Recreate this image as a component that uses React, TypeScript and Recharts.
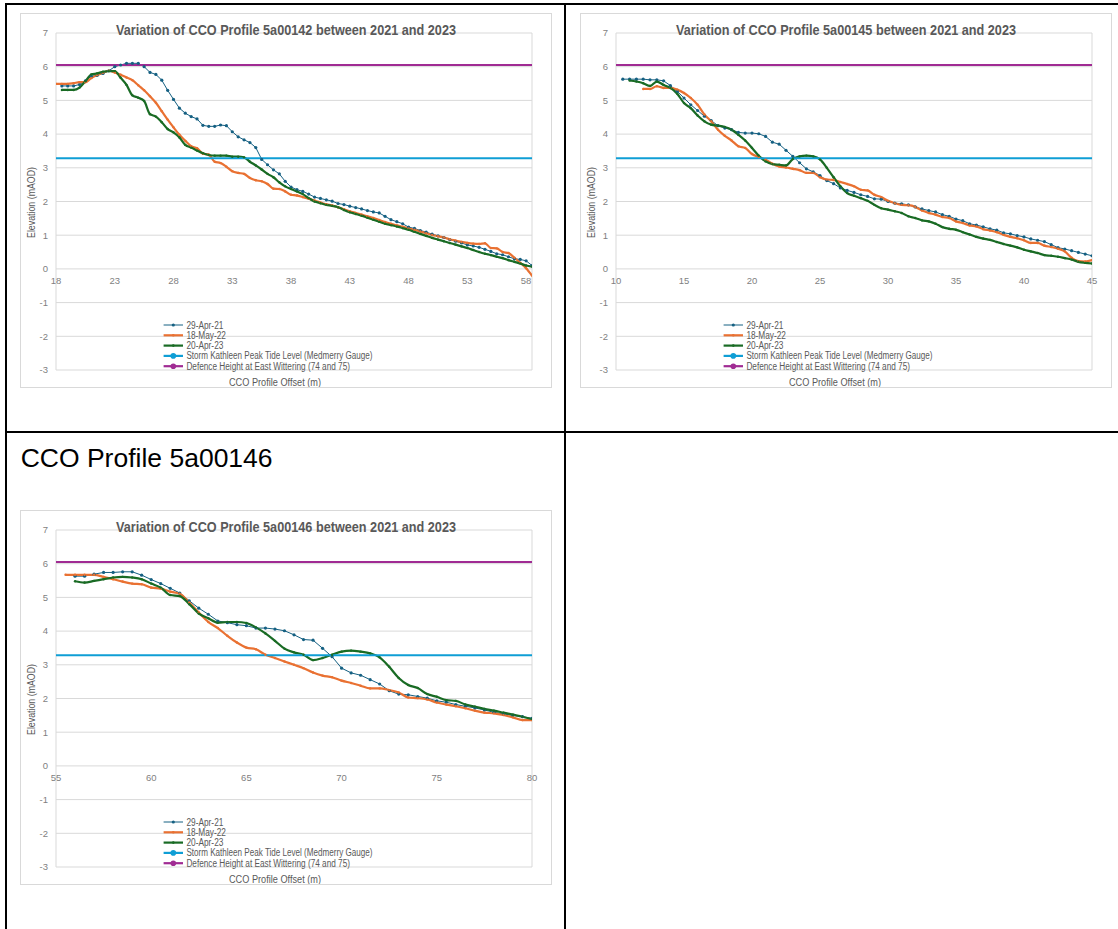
import React from "react";
import {
  LineChart,
  Line,
  XAxis,
  YAxis,
  CartesianGrid,
  ReferenceLine,
  ReferenceDot,
  Legend,
} from "recharts";

// Office palette used by the original workbook
const BLUE = "#156082";
const ORANGE = "#E97132";
const GREEN = "#196B24";
const CYAN = "#0F9ED5";
const PURPLE = "#A02B93";
const GRID = "#d9d9d9";
const TICK = "#7f7f7f";
const LABEL = "#595959";
const FONT = "'Liberation Sans', Arial, sans-serif";

const STORM_LEVEL = 3.28;
const DEFENCE_HEIGHT = 6.05;
const Y_TICKS = [-3, -2, -1, 0, 1, 2, 3, 4, 5, 6, 7];

const LEGEND_LABELS = [
  "29-Apr-21",
  "18-May-22",
  "20-Apr-23",
  "Storm Kathleen Peak Tide Level (Medmerry Gauge)",
  "Defence Height at East Wittering (74 and 75)",
];

// ---- Profile 5a00142 ----
const OFFSETS_142 = [
  18, 18.5, 19, 19.5, 20, 20.5, 21, 21.5, 22, 22.5,
  23, 23.5, 24, 24.5, 25, 25.5, 26, 26.5, 27, 27.5,
  28, 28.5, 29, 29.5, 30, 30.5, 31, 31.5, 32, 32.5,
  33, 33.5, 34, 34.5, 35, 35.5, 36, 36.5, 37, 37.5,
  38, 38.5, 39, 39.5, 40, 40.5, 41, 41.5, 42, 42.5,
  43, 43.5, 44, 44.5, 45, 45.5, 46, 46.5, 47, 47.5,
  48, 48.5, 49, 49.5, 50, 50.5, 51, 51.5, 52, 52.5,
  53, 53.5, 54, 54.5, 55, 55.5, 56, 56.5, 57, 57.5,
  58, 58.5,
];
const APR21_142 = [
  null, 5.43, 5.43, 5.43, 5.47, 5.58, 5.72, 5.74, 5.8, 5.88,
  6.0, 6.05, 6.1, 6.1, 6.1, 6.0, 5.83, 5.77, 5.6, 5.3,
  5.03, 4.77, 4.62, 4.52, 4.45, 4.26, 4.23, 4.23, 4.27, 4.25,
  4.07, 3.92, 3.83, 3.75, 3.6, 3.25, 3.09, 2.94, 2.82, 2.6,
  2.43, 2.35, 2.3, 2.22, 2.13, 2.09, 2.05, 2.01, 1.94, 1.91,
  1.86, 1.82, 1.78, 1.73, 1.69, 1.66, 1.56, 1.46, 1.4, 1.34,
  1.24, 1.2, 1.14, 1.09, 1.03, 0.98, 0.93, 0.87, 0.82, 0.77,
  0.71, 0.68, 0.64, 0.58, 0.52, 0.45, 0.42, 0.36, 0.3, 0.28,
  0.24, 0.1,
];
const MAY22_142 = [
  5.49, 5.49, 5.49, 5.51, 5.54, 5.54, 5.66, 5.75, 5.82, 5.88,
  5.83, 5.76, 5.68, 5.6, 5.45, 5.3, 5.12, 4.93, 4.68, 4.43,
  4.2, 3.98, 3.8, 3.64, 3.58, 3.42, 3.39, 3.18, 3.14, 3.03,
  2.9, 2.85, 2.82, 2.7, 2.63, 2.6, 2.52, 2.38, 2.37, 2.3,
  2.2, 2.18, 2.13, 2.08, 2.03, 1.97, 1.92, 1.88, 1.83, 1.77,
  1.71, 1.66, 1.61, 1.56, 1.51, 1.45, 1.39, 1.34, 1.29, 1.25,
  1.2, 1.16, 1.11, 1.06, 1.01, 0.97, 0.93, 0.88, 0.84, 0.8,
  0.77, 0.75, 0.74, 0.76, 0.62, 0.61, 0.5, 0.47, 0.33, 0.18,
  0.02, -0.2,
];
const APR23_142 = [
  null, 5.31, 5.31, 5.31, 5.38, 5.57, 5.77, 5.8, 5.85, 5.87,
  5.87, 5.67, 5.46, 5.15, 5.08, 4.98, 4.59, 4.52, 4.35, 4.15,
  4.05, 3.9, 3.68, 3.6, 3.51, 3.43, 3.38, 3.36, 3.36, 3.36,
  3.33, 3.33, 3.31, 3.18, 3.07, 2.95, 2.82, 2.72, 2.57, 2.45,
  2.37, 2.3, 2.22, 2.1, 2.0, 1.95, 1.9, 1.87, 1.83, 1.75,
  1.68, 1.63, 1.58, 1.52, 1.46, 1.4, 1.34, 1.3, 1.26, 1.21,
  1.16, 1.1, 1.04, 0.98, 0.92, 0.87, 0.82, 0.77, 0.72, 0.67,
  0.62, 0.56, 0.5, 0.45, 0.41, 0.36, 0.32, 0.26, 0.21, 0.16,
  0.1, 0.07,
];
const X_TICKS_142 = [18, 23, 28, 33, 38, 43, 48, 53, 58];

// ---- Profile 5a00145 ----
const OFFSETS_145 = [
  10.5, 11, 11.5, 12, 12.5, 13, 13.5, 14, 14.5, 15,
  15.5, 16, 16.5, 17, 17.5, 18, 18.5, 19, 19.5, 20,
  20.5, 21, 21.5, 22, 22.5, 23, 23.5, 24, 24.5, 25,
  25.5, 26, 26.5, 27, 27.5, 28, 28.5, 29, 29.5, 30,
  30.5, 31, 31.5, 32, 32.5, 33, 33.5, 34, 34.5, 35,
  35.5, 36, 36.5, 37, 37.5, 38, 38.5, 39, 39.5, 40,
  40.5, 41, 41.5, 42, 42.5, 43, 43.5, 44, 44.5, 45,
];
const APR21_145 = [
  5.63, 5.63, 5.63, 5.63, 5.61, 5.61, 5.58, 5.44, 5.27, 5.07,
  4.87, 4.7, 4.53, 4.4, 4.25, 4.18, 4.13, 4.05, 4.03, 4.03,
  4.01, 3.93, 3.76, 3.7, 3.52, 3.34, 3.15, 2.97, 2.88, 2.77,
  2.62, 2.53, 2.4, 2.33, 2.27, 2.2, 2.15, 2.08, 2.07, 2.0,
  1.95, 1.93, 1.9, 1.84, 1.78, 1.73, 1.69, 1.61, 1.56, 1.48,
  1.43, 1.34, 1.3, 1.25, 1.19, 1.15, 1.07, 1.04, 0.99, 0.95,
  0.89, 0.85, 0.81, 0.72, 0.63, 0.59, 0.54, 0.49, 0.44, 0.39,
];
const MAY22_145 = [
  null, null, null, 5.34, 5.34, 5.42, 5.37, 5.37, 5.32, 5.22,
  5.07, 4.87, 4.58, 4.38, 4.13, 3.95, 3.81, 3.64, 3.59, 3.41,
  3.32, 3.24, 3.12, 3.04, 3.01, 2.97, 2.93, 2.85, 2.85, 2.72,
  2.65, 2.64, 2.58, 2.52, 2.45, 2.35, 2.33, 2.2, 2.13, 2.02,
  1.95, 1.9, 1.89, 1.84, 1.73, 1.66, 1.61, 1.54, 1.51, 1.41,
  1.36, 1.29, 1.26, 1.18, 1.14, 1.09, 1.01, 0.95, 0.91, 0.85,
  0.77, 0.77, 0.69, 0.65, 0.6, 0.52, 0.33, 0.23, 0.22, 0.26,
];
const APR23_145 = [
  null, 5.59, 5.56, 5.51, 5.43, 5.56, 5.46, 5.37, 5.2, 4.92,
  4.77, 4.55, 4.38, 4.28, 4.25, 4.21, 4.13, 3.98, 3.81, 3.59,
  3.36, 3.19, 3.11, 3.09, 3.07, 3.26, 3.34, 3.36, 3.34, 3.25,
  3.0, 2.72, 2.45, 2.25, 2.17, 2.1, 2.02, 1.9, 1.8, 1.76,
  1.71, 1.66, 1.56, 1.51, 1.44, 1.41, 1.34, 1.24, 1.19, 1.16,
  1.09, 1.02, 0.95, 0.9, 0.86, 0.8, 0.74, 0.69, 0.64, 0.57,
  0.52, 0.47, 0.41, 0.39, 0.36, 0.32, 0.28, 0.21, 0.18, 0.16,
];
const X_TICKS_145 = [10, 15, 20, 25, 30, 35, 40, 45];

// ---- Profile 5a00146 ----
const OFFSETS_146 = [
  55.5, 56, 56.5, 57, 57.5, 58, 58.5, 59, 59.5, 60,
  60.5, 61, 61.5, 62, 62.5, 63, 63.5, 64, 64.5, 65,
  65.5, 66, 66.5, 67, 67.5, 68, 68.5, 69, 69.5, 70,
  70.5, 71, 71.5, 72, 72.5, 73, 73.5, 74, 74.5, 75,
  75.5, 76, 76.5, 77, 77.5, 78, 78.5, 79, 79.5, 80,
];
const APR21_146 = [
  null, 5.63, 5.63, 5.69, 5.74, 5.74, 5.76, 5.76, 5.66, 5.53,
  5.41, 5.27, 5.13, 4.9, 4.68, 4.5, 4.3, 4.25, 4.19, 4.16,
  4.09, 4.09, 4.06, 4.01, 3.89, 3.75, 3.73, 3.49, 3.24, 2.9,
  2.76, 2.69, 2.56, 2.43, 2.23, 2.13, 2.11, 2.06, 2.01, 1.93,
  1.89, 1.82, 1.77, 1.72, 1.66, 1.59, 1.54, 1.5, 1.46, 1.41,
];
const MAY22_146 = [
  5.67, 5.67, 5.67, 5.67, 5.61, 5.54, 5.47, 5.41, 5.39, 5.29,
  5.26, 5.17, 5.11, 4.85, 4.55, 4.27, 4.09, 3.86, 3.66, 3.51,
  3.46, 3.3, 3.2, 3.1, 3.0, 2.9, 2.77, 2.68, 2.63, 2.53,
  2.46, 2.38, 2.3, 2.3, 2.25, 2.18, 2.03, 2.01, 1.97, 1.88,
  1.82, 1.77, 1.71, 1.64, 1.58, 1.56, 1.51, 1.44, 1.36, 1.36,
];
const APR23_146 = [
  null, 5.48, 5.44, 5.49, 5.54, 5.59, 5.61, 5.59, 5.54, 5.41,
  5.29, 5.07, 5.04, 4.8, 4.52, 4.38, 4.25, 4.27, 4.27, 4.24,
  4.11, 3.93, 3.71, 3.48, 3.37, 3.3, 3.14, 3.2, 3.3, 3.39,
  3.42, 3.39, 3.34, 3.22, 2.94, 2.61, 2.4, 2.31, 2.13, 2.05,
  1.95, 1.93, 1.82, 1.76, 1.69, 1.64, 1.58, 1.52, 1.46, 1.39,
];
const X_TICKS_146 = [55, 60, 65, 70, 75, 80];

const CHART_W = 530;
const CHART_H = 373;
const LEGEND_W = 320;

const LEGEND_STYLE = [
  { color: BLUE, width: 1, r: 1.6, textLength: 37 },
  { color: ORANGE, width: 2.2, r: 1.3, textLength: 39.6 },
  { color: GREEN, width: 2.2, r: 1.3, textLength: 37 },
  { color: CYAN, width: 2.2, r: 2.8, textLength: 186 },
  { color: PURPLE, width: 2.2, r: 2.8, textLength: 163.6 },
];

function LegendBox() {
  return (
    <svg width={LEGEND_W} height={58} style={{ display: "block", overflow: "visible" }}>
      {LEGEND_LABELS.map((label, i) => {
        const s = LEGEND_STYLE[i];
        const cy = 7 + i * 10.3;
        return (
          <g key={label}>
            <line x1={2.6} x2={22} y1={cy} y2={cy} stroke={s.color} strokeWidth={s.width} />
            <circle cx={12.3} cy={cy} r={s.r} fill={s.color} />
            <text
              x={25.4}
              y={cy + 3.5}
              fontSize={10}
              fill={LABEL}
              fontFamily={FONT}
              textLength={s.textLength}
              lengthAdjust="spacingAndGlyphs"
            >
              {label}
            </text>
          </g>
        );
      })}
    </svg>
  );
}

interface ChartProps {
  left: number;
  top: number;
  profile: string;
  offsets: number[];
  apr21: (number | null)[];
  may22: (number | null)[];
  apr23: (number | null)[];
  xDomain: [number, number];
  xTicks: number[];
}

function ProfileChart({ left, top, profile, offsets, apr21, may22, apr23, xDomain, xTicks }: ChartProps) {
  const data = offsets.map((x, i) => ({ x, apr21: apr21[i], may22: may22[i], apr23: apr23[i] }));

  return (
    <div
      style={{
        position: "absolute",
        left,
        top,
        width: CHART_W,
        height: CHART_H,
        border: `1px solid ${GRID}`,
        background: "#fff",
        fontFamily: FONT,
      }}
    >
      <LineChart width={CHART_W} height={CHART_H} data={data} margin={{ top: 19, right: 19, bottom: 17, left: 0 }}>
        <CartesianGrid stroke={GRID} />
        <XAxis
          type="number"
          dataKey="x"
          domain={xDomain}
          ticks={xTicks}
          allowDataOverflow
          tick={false}
          axisLine={false}
          tickLine={false}
          height={0}
        />
        <YAxis
          type="number"
          domain={[-3, 7]}
          ticks={Y_TICKS}
          interval={0}
          allowDataOverflow
          width={35}
          axisLine={false}
          tickLine={false}
          tick={{ fill: TICK, fontSize: 9.5, fontFamily: FONT }}
        />
        <Line
          type="linear"
          dataKey="apr21"
          stroke={BLUE}
          strokeWidth={1}
          dot={{ r: 1.6, fill: BLUE, stroke: BLUE, strokeWidth: 0 }}
          activeDot={false}
          isAnimationActive={false}
        />
        <Line
          type="monotone"
          dataKey="may22"
          stroke={ORANGE}
          strokeWidth={2.2}
          dot={{ r: 1.2, fill: ORANGE, stroke: ORANGE, strokeWidth: 0 }}
          activeDot={false}
          isAnimationActive={false}
        />
        <Line
          type="monotone"
          dataKey="apr23"
          stroke={GREEN}
          strokeWidth={2.2}
          dot={{ r: 1.2, fill: GREEN, stroke: GREEN, strokeWidth: 0 }}
          activeDot={false}
          isAnimationActive={false}
        />
        <ReferenceLine y={STORM_LEVEL} stroke={CYAN} strokeWidth={2} />
        <ReferenceLine y={DEFENCE_HEIGHT} stroke={PURPLE} strokeWidth={2} />
        {xTicks.map((t) => (
          <ReferenceDot
            key={t}
            x={t}
            y={0}
            r={1}
            ifOverflow="visible"
            shape={(p: any) => (
              <text x={p.cx} y={p.cy + 15} textAnchor="middle" fill={TICK} fontSize={9.5} fontFamily={FONT}>
                {t}
              </text>
            )}
          />
        ))}
        <Legend
          layout="vertical"
          align="center"
          verticalAlign="middle"
          wrapperStyle={{ left: 140, top: 304, width: LEGEND_W, height: 58 }}
          content={() => <LegendBox />}
        />
      </LineChart>
      <svg
        width={CHART_W}
        height={CHART_H}
        style={{ position: "absolute", left: 0, top: 0, pointerEvents: "none" }}
      >
        <text
          x={265}
          y={21}
          textAnchor="middle"
          fontSize={14}
          fontWeight="bold"
          fill={LABEL}
          fontFamily={FONT}
          textLength={340}
          lengthAdjust="spacingAndGlyphs"
        >
          {`Variation of CCO Profile ${profile} between 2021 and 2023`}
        </text>
        <text
          x={0}
          y={0}
          transform="translate(10.4 188.5) rotate(-90)"
          textAnchor="middle"
          dominantBaseline="central"
          fontSize={10}
          fill={LABEL}
          fontFamily={FONT}
          textLength={71}
          lengthAdjust="spacingAndGlyphs"
        >
          Elevation (mAOD)
        </text>
        <text
          x={254}
          y={371.5}
          textAnchor="middle"
          fontSize={10}
          fill={LABEL}
          fontFamily={FONT}
          textLength={92}
          lengthAdjust="spacingAndGlyphs"
        >
          CCO Profile Offset (m)
        </text>
      </svg>
    </div>
  );
}

const rule = (left: number, top: number, width: number, height: number): React.CSSProperties => ({
  position: "absolute",
  left,
  top,
  width,
  height,
  background: "#000",
});

export default function App() {
  return (
    <div style={{ position: "absolute", left: 0, top: 0, width: 1118, height: 929, background: "#fff", overflow: "hidden" }}>
      {/* table borders */}
      <div style={rule(5, 3, 1113, 2)} />
      <div style={rule(5, 3, 2, 926)} />
      <div style={rule(564, 3, 2, 926)} />
      <div style={rule(5, 431, 1113, 2)} />

      <ProfileChart
        left={20}
        top={13}
        profile="5a00142"
        offsets={OFFSETS_142}
        apr21={APR21_142}
        may22={MAY22_142}
        apr23={APR23_142}
        xDomain={[18, 58.5]}
        xTicks={X_TICKS_142}
      />
      <ProfileChart
        left={580}
        top={13}
        profile="5a00145"
        offsets={OFFSETS_145}
        apr21={APR21_145}
        may22={MAY22_145}
        apr23={APR23_145}
        xDomain={[10, 45]}
        xTicks={X_TICKS_145}
      />

      <svg width={400} height={40} style={{ position: "absolute", left: 0, top: 440 }}>
        <text x={20.7} y={26.7} fontSize={26.5} fill="#000" fontFamily={FONT}>
          CCO Profile 5a00146
        </text>
      </svg>

      <ProfileChart
        left={20}
        top={510}
        profile="5a00146"
        offsets={OFFSETS_146}
        apr21={APR21_146}
        may22={MAY22_146}
        apr23={APR23_146}
        xDomain={[55, 80]}
        xTicks={X_TICKS_146}
      />
    </div>
  );
}
